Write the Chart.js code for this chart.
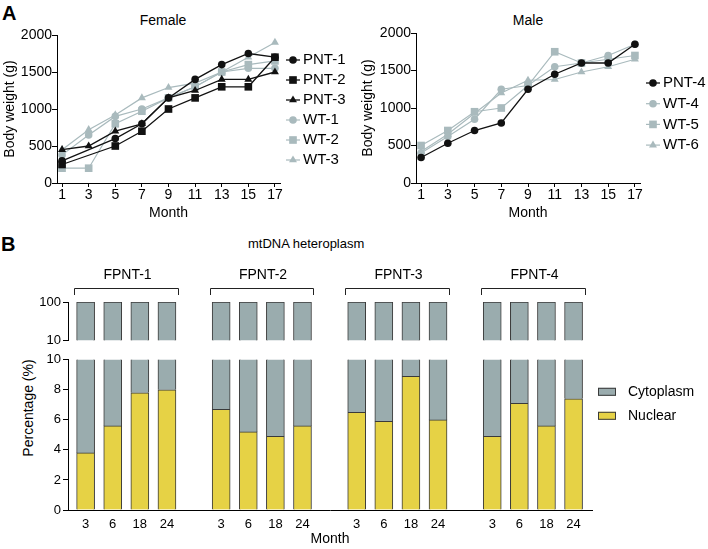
<!DOCTYPE html>
<html>
<head>
<meta charset="utf-8">
<script src="https://cdn.jsdelivr.net/npm/chart.js"></script>
<style>
  html, body { margin: 0; padding: 0; background: #fff; }
  body { width: 708px; height: 549px; position: relative; overflow: hidden;
         font-family: "Liberation Sans", Arial, sans-serif; color: #000; }
  canvas { position: absolute; }
  .lbl { position: absolute; line-height: 1; white-space: nowrap; transform: translate(-50%, -50%); }
</style>
</head>
<body>
<div class="lbl" style="left:2px; top:13px; transform:translate(0,-50%); font-size:20px; font-weight:bold;">A</div>
<div class="lbl" style="left:163px; top:20px; font-size:14px;">Female</div>
<div class="lbl" style="left:528px; top:20px; font-size:14px;">Male</div>
<div class="lbl" style="left:1px; top:244px; transform:translate(0,-50%); font-size:20px; font-weight:bold;">B</div>
<div class="lbl" style="left:248px; top:243px; transform:translate(0,-50%); font-size:13px;">mtDNA heteroplasm</div>
<div class="lbl" style="left:28px; top:408px; transform:translate(-50%,-50%) rotate(-90deg); font-size:14px;">Percentage (%)</div>

<canvas id="female" width="360" height="222" style="left:0; top:0;"></canvas>
<canvas id="male" width="350" height="222" style="left:358px; top:0;"></canvas>
<canvas id="upper" width="708" height="120" style="left:0; top:230px;"></canvas>
<canvas id="lower" width="708" height="199" style="left:0; top:350px;"></canvas>

<script>
// --- panel A data (body weight, g) ---
const months = [1, 3, 5, 7, 9, 11, 13, 15, 17];

const pnt1 = [300, null, 600, 800, 1150, 1400, 1600, 1750, 1700];
const pnt2 = [250, null, 500, 700, 1000, 1150, 1300, 1300, 1700];
const pnt3 = [450, 500, 700, 800, 1150, 1250, 1400, 1400, 1500];
const wt1 = [380, 650, 900, 1000, 1150, 1300, 1500, 1550, 1550];
const wt2 = [200, 200, 800, 970, 1150, 1300, 1500, 1600, 1650];
const wt3 = [450, 720, 920, 1150, 1290, 1350, 1500, 1700, 1900];

const pnt4 = [340, 530, 700, 800, 1250, 1450, 1600, 1600, 1850];
const wt4 = [400, 620, 850, 1250, 1300, 1550, 1600, 1700, 1850];
const wt5 = [500, 700, 950, 1000, 1300, 1750, 1600, 1650, 1700];
const wt6 = [420, 650, 930, 1200, 1370, 1380, 1480, 1550, 1650];

// --- panel B data (%), nuclear + cytoplasm per sample ---
const groups = ['FPNT-1', 'FPNT-2', 'FPNT-3', 'FPNT-4'];
const sampleMonths = ['3', '6', '18', '24'];
const nuclear1 = [3.8, 5.6, 7.8, 8.0];
const nuclear2 = [6.7, 5.2, 4.9, 5.6];
const nuclear3 = [6.5, 5.9, 8.9, 6.0];
const nuclear4 = [4.9, 7.1, 5.6, 7.4];
const cyto1 = [96.2, 94.4, 92.2, 92.0];
const cyto2 = [93.3, 94.8, 95.1, 94.4];
const cyto3 = [93.5, 94.1, 91.1, 94.0];
const cyto4 = [95.1, 92.9, 94.4, 92.6];

const FONT = '"Liberation Sans", Arial, sans-serif';
Chart.defaults.font.family = FONT;
Chart.defaults.color = '#000';

const BLACK = '#111111';
const GRAY = '#a9babd';
const MARK = { circle: 3.8, rect: 5.4, triangle: 4.6 };

function series(label, data, color, style) {
  return {
    label: label,
    data: data,
    borderColor: color,
    backgroundColor: color,
    pointBackgroundColor: color,
    pointBorderColor: color,
    borderWidth: color === BLACK ? 1.3 : 1.2,
    pointStyle: style,
    pointRadius: MARK[style],
    pointBorderWidth: 0,
    tension: 0,
    spanGaps: true
  };
}

// legend with a short line through the marker, drawn right of the plot
const lineLegend = {
  id: 'lineLegend',
  afterDraw(chart, args, opts) {
    const ctx = chart.ctx;
    const right = chart.chartArea.right;
    ctx.save();
    ctx.font = '15px ' + FONT;
    ctx.textBaseline = 'middle';
    chart.data.datasets.forEach((ds, i) => {
      const y = opts.top + i * opts.step;
      ctx.strokeStyle = ds.borderColor;
      ctx.lineWidth = ds.borderWidth;
      ctx.beginPath();
      ctx.moveTo(right + 6, y);
      ctx.lineTo(right + 20, y);
      ctx.stroke();
      ctx.fillStyle = ds.pointBackgroundColor;
      Chart.helpers.drawPoint(ctx, { pointStyle: ds.pointStyle, radius: ds.pointRadius, rotation: 0, borderWidth: 0 }, right + 13, y);
      ctx.fillStyle = '#000';
      ctx.fillText(ds.label, right + 23, y);
    });
    ctx.restore();
  }
};

function weightChart(id, datasets, yWidth, padTop, padRight, legendTop, legendStep) {
  return new Chart(document.getElementById(id), {
    type: 'line',
    data: { labels: months, datasets: datasets },
    plugins: [lineLegend],
    options: {
      responsive: false,
      animation: false,
      devicePixelRatio: 1,
      layout: { padding: { top: padTop, right: padRight, bottom: 0, left: 0 } },
      plugins: {
        legend: { display: false },
        tooltip: { enabled: false },
        lineLegend: { top: legendTop, step: legendStep }
      },
      scales: {
        x: {
          type: 'linear',
          min: 0.62,
          max: 17.38,
          afterBuildTicks(s) { s.ticks = months.map(v => ({ value: v })); },
          afterFit(s) { s.height = 39; },
          ticks: { font: { size: 14 }, padding: 0, maxRotation: 0, autoSkip: false },
          grid: { drawOnChartArea: false, tickLength: 4, color: '#000' },
          border: { color: '#000' },
          title: { display: true, text: 'Month', font: { size: 14 }, padding: { top: 0, bottom: 0 } }
        },
        y: {
          min: 0,
          max: 2000,
          afterFit(s) { s.width = yWidth; },
          ticks: { stepSize: 500, font: { size: 14 }, padding: 0, callback: v => String(v) },
          grid: { drawOnChartArea: false, tickLength: 5, color: '#000' },
          border: { color: '#000' },
          title: { display: true, text: 'Body weight (g)', font: { size: 14 }, padding: { top: 2, bottom: 0 } }
        }
      }
    }
  });
}

weightChart('female', [
  series('PNT-1', pnt1, BLACK, 'circle'),
  series('PNT-2', pnt2, BLACK, 'rect'),
  series('PNT-3', pnt3, BLACK, 'triangle'),
  series('WT-1', wt1, GRAY, 'circle'),
  series('WT-2', wt2, GRAY, 'rect'),
  series('WT-3', wt3, GRAY, 'triangle')
], 57, 35, 80, 60, 20);

weightChart('male', [
  series('PNT-4', pnt4, BLACK, 'circle'),
  series('WT-4', wt4, GRAY, 'circle'),
  series('WT-5', wt5, GRAY, 'rect'),
  series('WT-6', wt6, GRAY, 'triangle')
], 58, 33, 68, 83, 20.7);

// --- panel B: broken-axis stacked bars ---
const nuclearAll = [nuclear1, nuclear2, nuclear3, nuclear4];
const cytoAll = [cyto1, cyto2, cyto3, cyto4];
const xLabels = [];
const nuclearPts = [];
const cytoPts = [];
groups.forEach((g, gi) => {
  sampleMonths.forEach((m, mi) => {
    const idx = gi * (sampleMonths.length + 1) + mi;
    xLabels[idx] = m;
    nuclearPts.push({ x: idx, y: nuclearAll[gi][mi] });
    cytoPts.push({ x: idx, y: cytoAll[gi][mi] });
  });
});
const tickIdx = nuclearPts.map(p => p.x);

const CYTO = '#9aacae';
const NUC = '#e6d245';
const EDGE = '#3a3a3a';

function barSets() {
  return [
    { label: 'Nuclear', data: nuclearPts, backgroundColor: NUC, borderColor: EDGE, borderWidth: 1, stack: 's', barThickness: 18, clip: 0 },
    { label: 'Cytoplasm', data: cytoPts, backgroundColor: CYTO, borderColor: EDGE, borderWidth: 1, stack: 's', barThickness: 18, clip: 0 }
  ];
}

const groupBrackets = {
  id: 'groupBrackets',
  afterDraw(chart) {
    const ctx = chart.ctx;
    const xs = chart.scales.x;
    const top = chart.chartArea.top;
    ctx.save();
    ctx.strokeStyle = '#222';
    ctx.lineWidth = 1;
    ctx.font = '14px ' + FONT;
    ctx.textAlign = 'center';
    ctx.textBaseline = 'middle';
    ctx.fillStyle = '#000';
    groups.forEach((g, gi) => {
      const first = gi * (sampleMonths.length + 1);
      const last = first + sampleMonths.length - 1;
      const l = Math.round(xs.getPixelForValue(first) - 11.5) + 0.5;
      const r = Math.round(xs.getPixelForValue(last) + 11) + 0.5;
      const yb = top - 14 + 0.5;
      ctx.beginPath();
      ctx.moveTo(l, top - 7);
      ctx.lineTo(l, yb);
      ctx.lineTo(r, yb);
      ctx.lineTo(r, top - 7);
      ctx.stroke();
      ctx.fillText(g, (l + r) / 2 + 1, top - 27);
    });
    ctx.restore();
  }
};

const barLegend = {
  id: 'barLegend',
  afterDraw(chart) {
    const ctx = chart.ctx;
    const a = chart.chartArea;
    ctx.save();
    ctx.font = '14px ' + FONT;
    ctx.textBaseline = 'middle';
    chart.data.datasets.slice().reverse().forEach((ds, i) => {
      const y = a.top + 32 + i * 24;
      ctx.fillStyle = ds.backgroundColor;
      ctx.fillRect(a.right + 6, y - 4, 18, 8);
      ctx.strokeStyle = EDGE;
      ctx.lineWidth = 1;
      ctx.strokeRect(a.right + 6.5, y - 3.5, 17, 7);
      ctx.fillStyle = '#000';
      ctx.fillText(ds.label, a.right + 36, y);
    });
    ctx.restore();
  }
};

const yCommon = {
  stacked: true,
  afterFit(s) { s.width = 68; },
  grid: { drawOnChartArea: false, tickLength: 5, color: '#000' },
  border: { color: '#000' }
};

const xCommon = {
  type: 'linear',
  min: -0.65,
  max: 18.68,
  offset: false
};

new Chart(document.getElementById('upper'), {
  type: 'bar',
  data: { datasets: barSets() },
  plugins: [groupBrackets],
  options: {
    responsive: false,
    animation: false,
    devicePixelRatio: 1,
    layout: { padding: { top: 72, right: 116, bottom: 7, left: 0 } },
    plugins: { legend: { display: false }, tooltip: { enabled: false } },
    scales: {
      x: Object.assign({}, xCommon, { display: false }),
      y: Object.assign({}, yCommon, {
        min: 10,
        max: 100,
        afterBuildTicks(s) { s.ticks = [{ value: 10 }, { value: 100 }]; },
        ticks: { font: { size: 13 }, padding: 2 }
      })
    }
  }
});

new Chart(document.getElementById('lower'), {
  type: 'bar',
  data: { datasets: barSets() },
  plugins: [barLegend],
  options: {
    responsive: false,
    animation: false,
    devicePixelRatio: 1,
    layout: { padding: { top: 6, right: 116, bottom: 0, left: 0 } },
    plugins: { legend: { display: false }, tooltip: { enabled: false } },
    scales: {
      x: Object.assign({}, xCommon, {
        afterBuildTicks(s) { s.ticks = tickIdx.map(v => ({ value: v })); },
        afterFit(s) { s.height = 39; },
        ticks: { callback: v => xLabels[v], font: { size: 13 }, padding: 7, maxRotation: 0, autoSkip: false },
        grid: { display: true, offset: false, drawOnChartArea: false, drawTicks: false, color: '#000' },
        border: { display: true, color: '#000' },
        title: { display: true, text: 'Month', font: { size: 14 }, padding: { top: 0, bottom: 1 } }
      }),
      y: Object.assign({}, yCommon, {
        min: 0,
        max: 10,
        ticks: { stepSize: 2, font: { size: 13 }, padding: 2 }
      })
    }
  }
});
</script>
</body>
</html>
